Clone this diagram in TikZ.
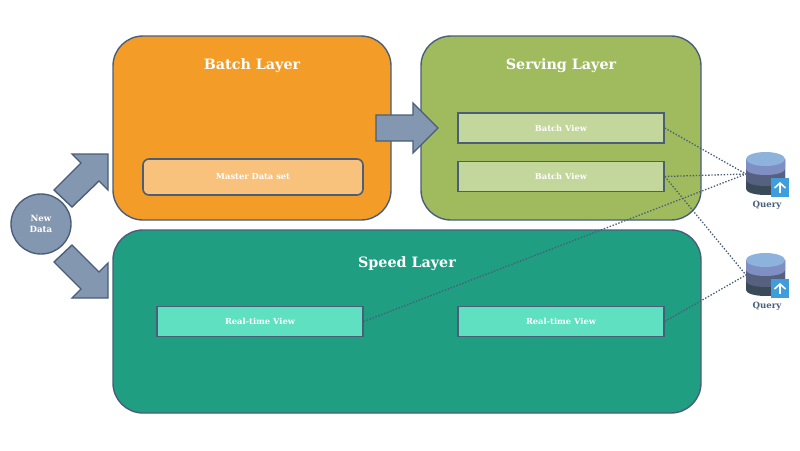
\documentclass[tikz,border=0pt]{standalone}
\usepackage{fontspec}
\setmainfont{DejaVu Serif}
\usetikzlibrary{positioning}
\definecolor{edgeC}{HTML}{4A5E7A}
\definecolor{arrowC}{HTML}{8497B0}
\definecolor{orangeC}{HTML}{F39C27}
\definecolor{greenC}{HTML}{9FBB5E}
\definecolor{tealC}{HTML}{1F9E82}
\definecolor{peachC}{HTML}{F8C27C}
\definecolor{paleC}{HTML}{C3D69B}
\definecolor{mintC}{HTML}{5FE0C1}
\definecolor{c1}{HTML}{8DB3DC}
\definecolor{c2}{HTML}{7F8FC4}
\definecolor{c3}{HTML}{55617F}
\definecolor{c4}{HTML}{3A4A58}
\definecolor{upC}{HTML}{3F9CDD}
\tikzset{
 x=1pt,y=-1pt,
 layerbox/.style={draw=edgeC,line width=1.4pt,rounded corners=30pt,minimum width=#1,inner sep=0pt},
 viewbox/.style={draw=edgeC,line width=1.6pt,minimum width=206pt,minimum height=30pt,inner sep=0pt,text=white,font=\bfseries\fontsize{8.3}{10}\selectfont},
 title/.style={text=white,font=\bfseries\fontsize{14.3}{17}\selectfont},
 blockarrow/.style={draw=edgeC,line width=1.4pt,fill=arrowC,line join=miter},
 link/.style={draw=edgeC,line width=1.3pt,dash pattern=on 1.4pt off 1.7pt},
 qlabel/.style={text=edgeC,font=\bfseries\fontsize{8.6}{10}\selectfont},
}
\newcommand{\dbicon}[3]{%
 \begin{scope}[shift={(#1,#2)}]
  \fill[c4] (0,0) -- (0,30) arc[x radius=19.5,y radius=6,start angle=180,end angle=0] -- (39,0) -- cycle;
  \fill[c3] (0,0) -- (0,21) arc[x radius=19.5,y radius=6,start angle=180,end angle=0] -- (39,0) -- cycle;
  \fill[c2] (0,0) -- (0,10) arc[x radius=19.5,y radius=6,start angle=180,end angle=0] -- (39,0) -- cycle;
  \fill[c1] (19.5,0) ellipse[x radius=19.5,y radius=7];
  \fill[upC] (25,19) rectangle (43,38);
  \draw[white,line width=1.6pt] (34,34) -- (34,24);
  \draw[white,line width=1.6pt] (28.5,29) -- (34,24) -- (39.5,29);
 \end{scope}}
\begin{document}
\begin{tikzpicture}
\useasboundingbox (0,0) rectangle (800,450);
\fill[white] (0,0) rectangle (800,450);
% layers
\node[layerbox=278pt,minimum height=184pt,fill=orangeC] (batch) at (252,128) {};
\node[layerbox=280pt,minimum height=184pt,fill=greenC] (serving) at (561,128) {};
\node[layerbox=588pt,minimum height=183pt,fill=tealC] (speed) at (407,321.5) {};
\node[title] (batchT) at (252,65.5) {Batch Layer};
\node[title] (servingT) at (561,65.5) {Serving Layer};
\node[title] (speedT) at (407,263.5) {Speed Layer};
% views
\node[viewbox,fill=peachC,rounded corners=6pt,minimum width=220pt,minimum height=36pt] (master) at (253,177) {Master Data set};
\node[viewbox,fill=paleC] (bv1) at (561,128) {Batch View};
\node[viewbox,fill=paleC] (bv2) at (561,176.5) {Batch View};
\node[viewbox,fill=mintC] (rt1) at (260,321.5) {Real-time View};
\node[viewbox,fill=mintC] (rt2) at (561,321.5) {Real-time View};
% new data
\node[circle,draw=edgeC,line width=1.4pt,fill=arrowC,minimum size=60pt,inner sep=0pt,align=center,text=white,font=\bfseries\fontsize{8.6}{11.5}\selectfont] (newdata) at (41,224) {New\\Data};
% block arrows
\draw[blockarrow] (72,154) -- (108,154) -- (108,190) -- (99,181) -- (72,207) -- (54,190) -- (81,163) -- cycle;
\draw[blockarrow] (54,262) -- (72,245) -- (99,272) -- (108,263) -- (108,298) -- (72,298) -- (81,289) -- cycle;
\draw[blockarrow] (376,115) -- (413,115) -- (413,103) -- (438,128) -- (413,153) -- (413,141) -- (376,141) -- cycle;
% queries
\dbicon{746}{159}{1}
\dbicon{746}{260}{2}
\node[qlabel] (q1) at (767,205.5) {Query};
\node[qlabel] (q2) at (767,306.5) {Query};
\coordinate (q1in) at (746,174);
\coordinate (q2in) at (746,275);
% dotted links
\draw[link] (bv1.east) -- (q1in);
\draw[link] (bv2.east) -- (q1in);
\draw[link] (rt1.east) -- (q1in);
\draw[link] (bv2.east) -- (q2in);
\draw[link] (rt2.east) -- (q2in);
\end{tikzpicture}
\end{document}
